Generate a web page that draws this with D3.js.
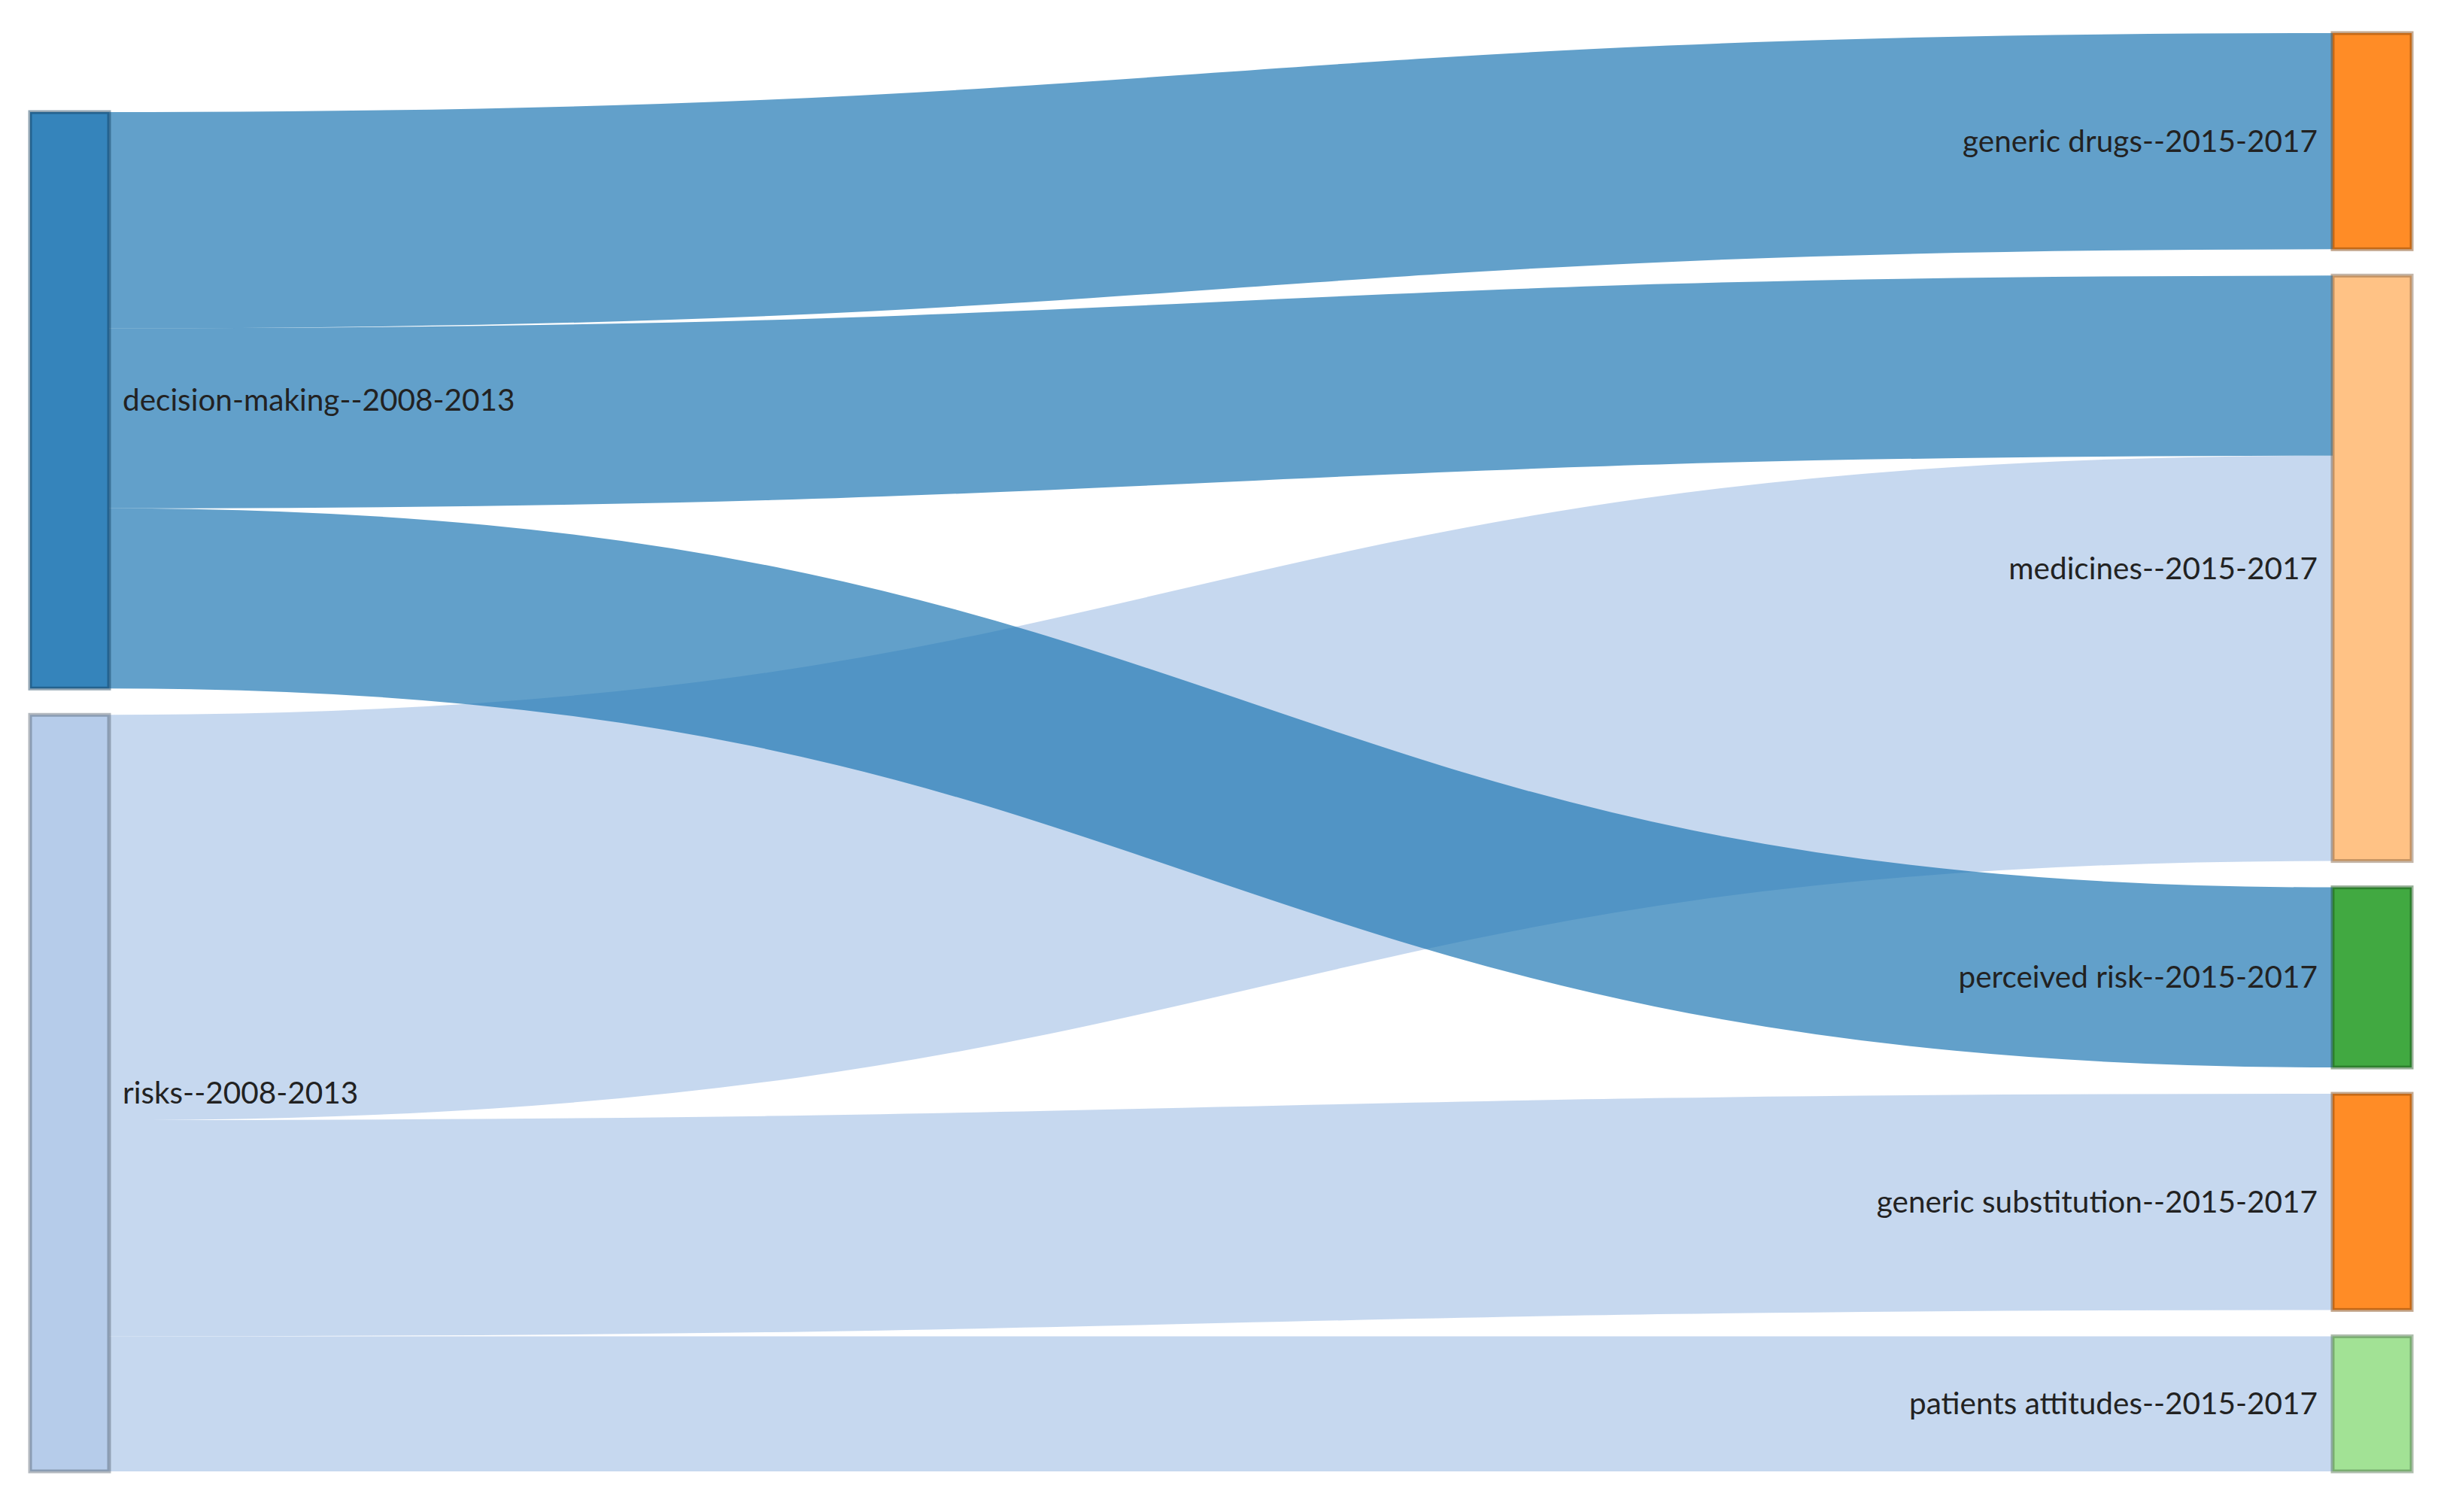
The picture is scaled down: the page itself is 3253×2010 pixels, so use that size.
<!DOCTYPE html>
<html>
<head>
<meta charset="utf-8">
<script src="https://cdn.jsdelivr.net/npm/d3@7"></script>
<style>
  body { margin: 0; background: #fff; }
  text { font-family: Lato, "Open Sans", sans-serif; }
</style>
</head>
<body>
<div id="chart"></div>
<script>
// DATA
var nodeNames = [
  "decision-making--2008-2013",
  "risks--2008-2013",
  "generic drugs--2015-2017",
  "medicines--2015-2017",
  "perceived risk--2015-2017",
  "generic substitution--2015-2017",
  "patients attitudes--2015-2017"
];
var linkSources = [0, 0, 0, 1, 1, 1];
var linkTargets = [2, 3, 4, 3, 5, 6];
var linkValues  = [24, 20, 20, 45, 24, 15];

// SIZES
var width = 3253;
var height = 2010;
var margin = {top: 44, right: 47, bottom: 54, left: 40};
var nodeWidth = 105;
var nodePadding = 35;

// category20, keyed on the first word of the name
var color = d3.scaleOrdinal([
  "#1f77b4", "#aec7e8", "#ff7f0e", "#ffbb78", "#2ca02c", "#98df8a",
  "#d62728", "#ff9896", "#9467bd", "#c5b0d5"
]);

var svg = d3.select("#chart").append("svg")
  .attr("width", width)
  .attr("height", height);

// build nodes / links
var nodes = nodeNames.map(function(name, i) {
  return {name: name, index: i, sourceLinks: [], targetLinks: [], col: 0};
});
var links = linkValues.map(function(v, i) {
  var l = {source: nodes[linkSources[i]], target: nodes[linkTargets[i]], value: v};
  l.source.sourceLinks.push(l);
  l.target.targetLinks.push(l);
  return l;
});
nodes.forEach(function(n) {
  n.value = Math.max(d3.sum(n.sourceLinks, l => l.value), d3.sum(n.targetLinks, l => l.value));
  n.col = n.targetLinks.length ? 1 : 0;
  n.color = color(n.name.replace(/ .*/, ""));
});

var columns = d3.groups(nodes, n => n.col).map(g => g[1]);
var innerH = height - margin.top - margin.bottom;

// value -> pixel scale from the most crowded column
var kyMax = d3.min(columns, c => (innerH - (c.length - 1) * nodePadding) / d3.sum(c, n => n.value));
var y = d3.scaleLinear().domain([0, 1]).range([0, kyMax]);
var x = d3.scaleLinear().domain([0, 1]).range([margin.left, width - margin.right - nodeWidth]);

columns.forEach(function(col) {
  var total = d3.sum(col, n => y(n.value)) + (col.length - 1) * nodePadding;
  // short column sits against the bottom edge
  var y0 = margin.top + innerH - total;
  col.forEach(function(n) {
    n.x0 = x(n.col);
    n.x1 = n.x0 + nodeWidth;
    n.y0 = y0;
    n.y1 = y0 + y(n.value);
    y0 = n.y1 + nodePadding;
  });
});

// stack links inside each node
nodes.forEach(function(n) {
  n.sourceLinks.sort((a, b) => a.target.y0 - b.target.y0);
  n.targetLinks.sort((a, b) => a.source.y0 - b.source.y0);
  var sy = n.y0, ty = n.y0;
  n.sourceLinks.forEach(function(l) { l.width = y(l.value); l.sy = sy + l.width / 2; sy += l.width; });
  n.targetLinks.forEach(function(l) { l.ty = ty + y(l.value) / 2; ty += y(l.value); });
});

var linkPath = d3.linkHorizontal()
  .source(d => [d.source.x1, d.sy])
  .target(d => [d.target.x0, d.ty]);

svg.append("g")
  .attr("fill", "none")
  .selectAll("path")
  .data(links.slice().sort((a, b) => b.value - a.value))
  .join("path")
    .attr("d", linkPath)
    .attr("stroke", d => d.source.color)
    .attr("stroke-opacity", 0.7)
    .attr("stroke-width", d => d.width);

var node = svg.append("g")
  .selectAll("g")
  .data(nodes)
  .join("g");

node.append("rect")
  .attr("x", d => d.x0)
  .attr("y", d => d.y0)
  .attr("width", d => d.x1 - d.x0)
  .attr("height", d => d.y1 - d.y0)
  .attr("fill", d => d.color)
  .attr("fill-opacity", 0.9)
  .attr("stroke", d => d3.rgb(d.color).darker(2))
  .attr("stroke-opacity", 0.45)
  .attr("stroke-width", 5);

node.append("text")
  .attr("x", d => d.col === 0 ? d.x1 + 18 : d.x0 - 20)
  .attr("y", d => (d.y0 + d.y1) / 2)
  .attr("dy", ".35em")
  .attr("text-anchor", d => d.col === 0 ? "start" : "end")
  .attr("font-size", 40.5)
  .attr("fill", "#222")
  .text(d => d.name);
</script>
</body>
</html>
